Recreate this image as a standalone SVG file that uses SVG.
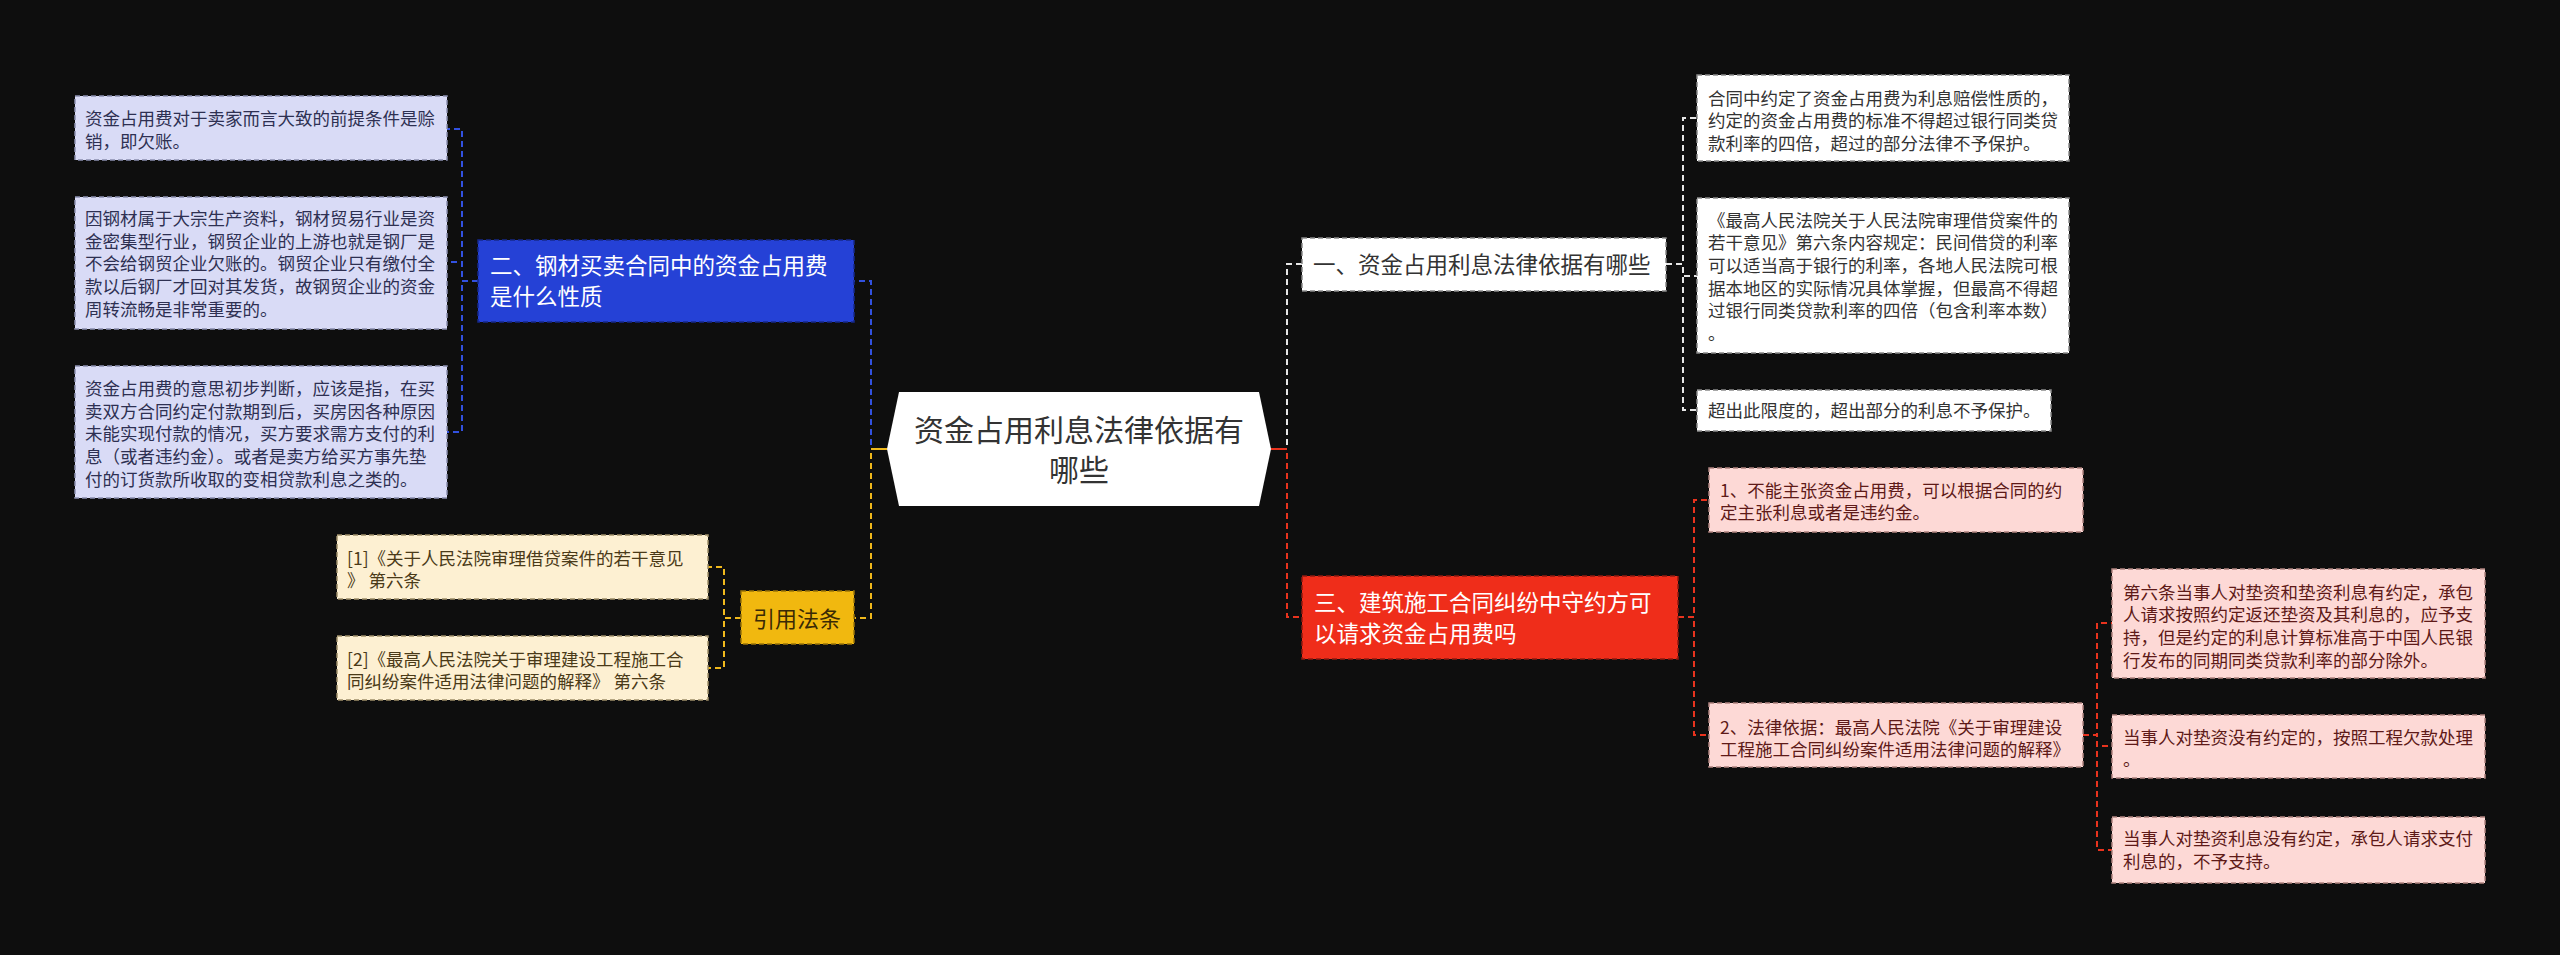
<svg xmlns="http://www.w3.org/2000/svg" width="2560" height="955" viewBox="0 0 2560 955">
<style>
text{font-family:"Noto Sans CJK SC","Noto Sans",sans-serif;}
.b{font-size:17.5px;}
.t{font-size:22.5px;}
.lav{fill:#d9dbf6;stroke:#8a8fae;stroke-width:1.5;stroke-dasharray:5 3;}
.lavt{fill:#2e3052;}
.cream{fill:#fdf0d2;stroke:#9e8f6a;stroke-width:1.5;stroke-dasharray:5 3;}
.creamt{fill:#4a3a18;}
.wht{fill:#ffffff;stroke:#8a8a8a;stroke-width:1.5;stroke-dasharray:5 3;}
.whtt{fill:#333333;}
.pink{fill:#fdd9d6;stroke:#b08480;stroke-width:1.5;stroke-dasharray:5 3;}
.pinkt{fill:#5e1a18;}
.c{fill:none;stroke-width:2;stroke-dasharray:6 4;}
.cb{stroke:#3251e0;}
.cy{stroke:#f0b91c;}
.cw{stroke:#e6e6e6;}
.cr{stroke:#e8331e;}
</style>
<rect x="0" y="0" width="2560" height="955" fill="#0e0e0e"/>

<g id="connectors">
  <path class="c cb" d="M887 449 H871 V281 H854"/>
  <path class="c cy" d="M887 449 H871 V618 H855"/>
  <path d="M887 449 H871" stroke="#f0b91c" stroke-width="2" fill="none"/>
  <path class="c cw" d="M1271 449 H1287 V264 H1302"/>
  <path class="c cr" d="M1271 449 H1287 V617 H1302"/>
  <path d="M1271 449 H1287" stroke="#e8331e" stroke-width="2" fill="none"/>

  <path class="c cb" d="M478 281 H462 V129 H444"/>
  <path class="c cb" d="M478 281 H462 V262 H447"/>
  <path class="c cb" d="M478 281 H462 V432 H447"/>

  <path class="c cy" d="M741 618 H724 V567 H708"/>
  <path class="c cy" d="M741 618 H724 V668 H708"/>

  <path class="c cw" d="M1666 264 H1683 V118 H1697"/>
  <path class="c cw" d="M1666 264 H1683 V276 H1697"/>
  <path class="c cw" d="M1666 264 H1683 V410 H1697"/>

  <path class="c cr" d="M1678 617 H1694 V500 H1709"/>
  <path class="c cr" d="M1678 617 H1694 V735 H1709"/>

  <path class="c cr" d="M2083 735 H2097 V623 H2112"/>
  <path class="c cr" d="M2083 735 H2097 V746 H2112"/>
  <path class="c cr" d="M2083 735 H2097 V850 H2112"/>
</g>

<g id="root">
  <polygon points="899,392 1259,392 1271,449 1259,506 899,506 887,449" fill="#ffffff"/>
  <text x="1079" y="441" font-size="30" fill="#333333" text-anchor="middle">资金占用利息法律依据有</text>
  <text x="1079" y="481" font-size="30" fill="#333333" text-anchor="middle">哪些</text>
</g>

<g id="n2">
  <rect x="478" y="240" width="376" height="82" fill="#2541d6" stroke="#16288a" stroke-width="1.5" stroke-dasharray="5 3"/>
  <text class="t" x="490" y="274" fill="#ffffff">二、钢材买卖合同中的资金占用费</text>
  <text class="t" x="490" y="305" fill="#ffffff">是什么性质</text>
</g>

<g id="n2a">
  <rect class="lav" x="75" y="96" width="372" height="64"/>
  <text class="b lavt" x="85" y="124.5">资金占用费对于卖家而言大致的前提条件是赊</text>
  <text class="b lavt" x="85" y="147.5">销，即欠账。</text>
</g>
<g id="n2b">
  <rect class="lav" x="75" y="197" width="372" height="132"/>
  <text class="b lavt" x="85" y="225">因钢材属于大宗生产资料，钢材贸易行业是资</text>
  <text class="b lavt" x="85" y="247.7">金密集型行业，钢贸企业的上游也就是钢厂是</text>
  <text class="b lavt" x="85" y="270.4">不会给钢贸企业欠账的。钢贸企业只有缴付全</text>
  <text class="b lavt" x="85" y="293.1">款以后钢厂才回对其发货，故钢贸企业的资金</text>
  <text class="b lavt" x="85" y="315.8">周转流畅是非常重要的。</text>
</g>
<g id="n2c">
  <rect class="lav" x="75" y="366" width="372" height="132"/>
  <text class="b lavt" x="85" y="395">资金占用费的意思初步判断，应该是指，在买</text>
  <text class="b lavt" x="85" y="417.7">卖双方合同约定付款期到后，买房因各种原因</text>
  <text class="b lavt" x="85" y="440.4">未能实现付款的情况，买方要求需方支付的利</text>
  <text class="b lavt" x="85" y="463.1">息（或者违约金）。或者是卖方给买方事先垫</text>
  <text class="b lavt" x="85" y="485.8">付的订货款所收取的变相贷款利息之类的。</text>
</g>

<g id="n4">
  <rect x="741" y="591" width="113" height="53" fill="#f1b80f" stroke="#9a7408" stroke-width="1.5" stroke-dasharray="5 3"/>
  <text x="753" y="626.5" font-size="22" fill="#3a2a05">引用法条</text>
</g>
<g id="n4a">
  <rect class="cream" x="337" y="535" width="371" height="64"/>
  <text class="b creamt" x="347" y="564.5">[1]《关于人民法院审理借贷案件的若干意见</text>
  <text class="b creamt" x="347" y="587.2">》 第六条</text>
</g>
<g id="n4b">
  <rect class="cream" x="337" y="636" width="371" height="64"/>
  <text class="b creamt" x="347" y="665.5">[2]《最高人民法院关于审理建设工程施工合</text>
  <text class="b creamt" x="347" y="688.2">同纠纷案件适用法律问题的解释》 第六条</text>
</g>

<g id="n1">
  <rect class="wht" x="1302" y="238" width="364" height="53"/>
  <text class="t whtt" x="1313" y="272.5">一、资金占用利息法律依据有哪些</text>
</g>
<g id="n1a">
  <rect class="wht" x="1697" y="75" width="372" height="86"/>
  <text class="b whtt" x="1708" y="104.5">合同中约定了资金占用费为利息赔偿性质的，</text>
  <text class="b whtt" x="1708" y="127.2">约定的资金占用费的标准不得超过银行同类贷</text>
  <text class="b whtt" x="1708" y="149.9">款利率的四倍，超过的部分法律不予保护。</text>
</g>
<g id="n1b">
  <rect class="wht" x="1697" y="198" width="372" height="155"/>
  <text class="b whtt" x="1708" y="226.5">《最高人民法院关于人民法院审理借贷案件的</text>
  <text class="b whtt" x="1708" y="249.2">若干意见》第六条内容规定：民间借贷的利率</text>
  <text class="b whtt" x="1708" y="271.9">可以适当高于银行的利率，各地人民法院可根</text>
  <text class="b whtt" x="1708" y="294.6">据本地区的实际情况具体掌握，但最高不得超</text>
  <text class="b whtt" x="1708" y="317.3">过银行同类贷款利率的四倍（包含利率本数）</text>
  <text class="b whtt" x="1708" y="340">。</text>
</g>
<g id="n1c">
  <rect class="wht" x="1697" y="390" width="354" height="41"/>
  <text class="b whtt" x="1708" y="416.5">超出此限度的，超出部分的利息不予保护。</text>
</g>

<g id="n3">
  <rect x="1302" y="576" width="376" height="83" fill="#ef2d1a" stroke="#8e1a10" stroke-width="1.5" stroke-dasharray="5 3"/>
  <text class="t" x="1314" y="611" fill="#ffffff">三、建筑施工合同纠纷中守约方可</text>
  <text class="t" x="1314" y="642" fill="#ffffff">以请求资金占用费吗</text>
</g>
<g id="n3a">
  <rect class="pink" x="1709" y="468" width="374" height="64"/>
  <text class="b pinkt" x="1720" y="496.5">1、不能主张资金占用费，可以根据合同的约</text>
  <text class="b pinkt" x="1720" y="519.2">定主张利息或者是违约金。</text>
</g>
<g id="n3b">
  <rect class="pink" x="1709" y="703" width="374" height="64"/>
  <text class="b pinkt" x="1720" y="733.5">2、法律依据：最高人民法院《关于审理建设</text>
  <text class="b pinkt" x="1720" y="756.2">工程施工合同纠纷案件适用法律问题的解释》</text>
</g>
<g id="n3b1">
  <rect class="pink" x="2112" y="569" width="373" height="109"/>
  <text class="b pinkt" x="2123" y="598.5">第六条当事人对垫资和垫资利息有约定，承包</text>
  <text class="b pinkt" x="2123" y="621.2">人请求按照约定返还垫资及其利息的，应予支</text>
  <text class="b pinkt" x="2123" y="643.9">持，但是约定的利息计算标准高于中国人民银</text>
  <text class="b pinkt" x="2123" y="666.6">行发布的同期同类贷款利率的部分除外。</text>
</g>
<g id="n3b2">
  <rect class="pink" x="2112" y="715" width="373" height="63"/>
  <text class="b pinkt" x="2123" y="743.5">当事人对垫资没有约定的，按照工程欠款处理</text>
  <text class="b pinkt" x="2123" y="766.2">。</text>
</g>
<g id="n3b3">
  <rect class="pink" x="2112" y="817" width="373" height="66"/>
  <text class="b pinkt" x="2123" y="845">当事人对垫资利息没有约定，承包人请求支付</text>
  <text class="b pinkt" x="2123" y="867.7">利息的，不予支持。</text>
</g>
</svg>
